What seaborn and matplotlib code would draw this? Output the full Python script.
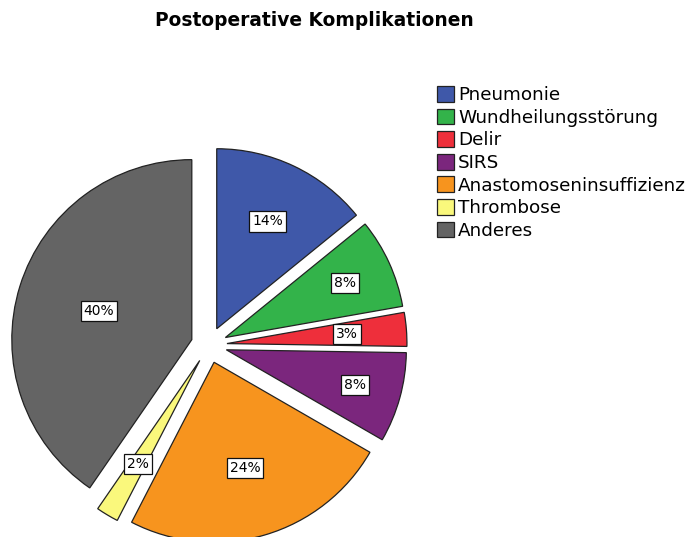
import matplotlib
matplotlib.use("Agg")
import matplotlib.pyplot as plt
import seaborn as sns
import numpy as np

categories = ["Pneumonie", "Wundheilungsstörung", "Delir", "SIRS",
              "Anastomoseninsuffizienz", "Thrombose", "Anderes"]
percent = [14, 8, 3, 8, 24, 2, 40]
colors = ["#3F58A9", "#33B34A", "#EE2F3B", "#7B267D", "#F7941E", "#FAF87C", "#646464"]
label_dist = [0.66, 0.73, 0.67, 0.74, 0.61, 0.67, 0.54]

sns.set_theme(style="white")
plt.rcParams['font.family'] = ['DejaVu Sans']
plt.rcParams['text.color'] = 'black'

W, H = 691, 537
fig = plt.figure(figsize=(W / 100, H / 100), dpi=100)
cx, cy, R = 209, 345, 180
half = 1.25 * R
ax = fig.add_axes([(cx - half) / W, (H - cy - half) / H, 2 * half / W, 2 * half / H])

wedges, _ = ax.pie(percent, colors=colors, startangle=90, counterclock=False,
                   explode=[0.1] * len(percent), radius=1,
                   wedgeprops=dict(edgecolor="#222222", linewidth=0.9))
ax.set_xlim(-1.25, 1.25)
ax.set_ylim(-1.25, 1.25)
ax.set_aspect("equal")
ax.axis("off")

total = sum(percent)
for w, p, d in zip(wedges, percent, label_dist):
    ang = np.deg2rad((w.theta1 + w.theta2) / 2)
    x0, y0 = w.center
    ax.text(x0 + d * np.cos(ang), y0 + d * np.sin(ang), f"{round(100 * p / total):d}%",
            ha="center", va="center", fontsize=10, color="black",
            bbox=dict(boxstyle="square,pad=0.22", fc="white", ec="#111111", lw=0.9))

fig.text(314 / W, 1 - 21 / H, "Postoperative Komplikationen", ha="center", va="center",
         fontsize=13.4, fontweight="bold", color="black")

leg = fig.legend(wedges, categories, loc="upper left", bbox_to_anchor=(437 / W, 1 - 86 / H),
                 frameon=False, fontsize=13.2, handlelength=0.95, handleheight=0.95,
                 handletextpad=0.2, labelspacing=0.24, borderpad=0, borderaxespad=0)
for t in leg.get_texts():
    t.set_color("black")

fig.savefig("out.png", dpi=100)
